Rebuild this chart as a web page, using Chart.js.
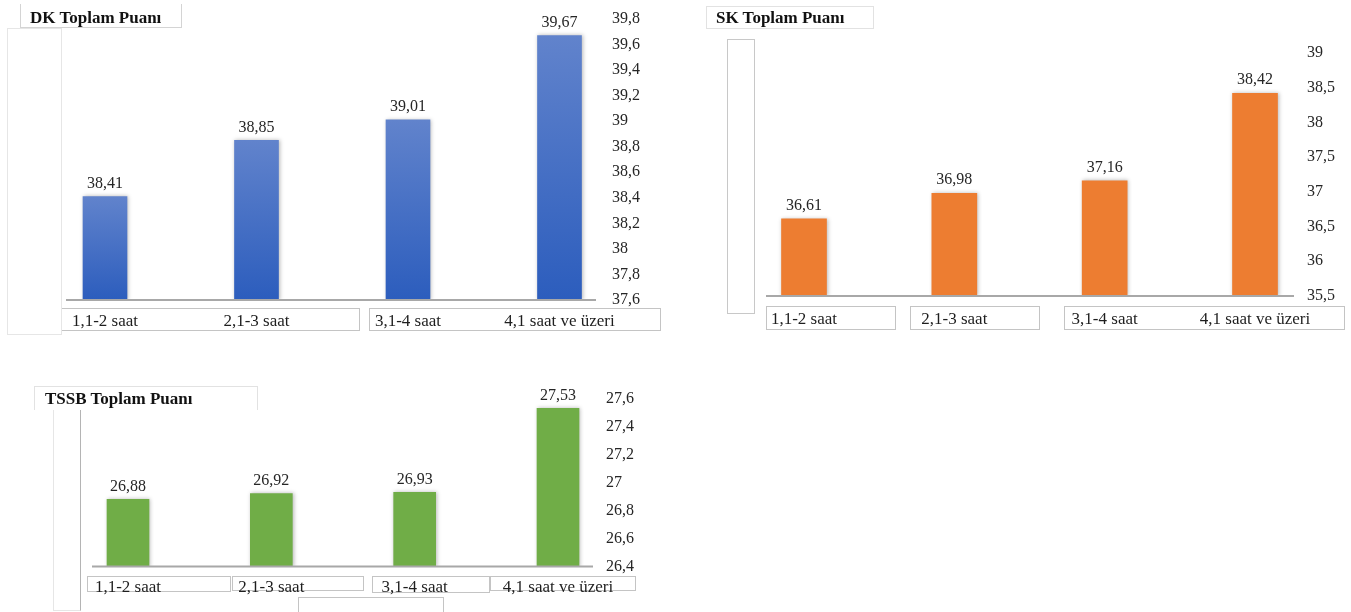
<!DOCTYPE html>
<html>
<head>
<meta charset="utf-8">
<script src="https://cdn.jsdelivr.net/npm/chart.js@4.4.1/dist/chart.umd.min.js"></script>
<style>
  html, body { margin: 0; padding: 0; background: #ffffff; }
  #page { position: relative; width: 1351px; height: 612px; overflow: hidden; }
  #page canvas { position: absolute; left: 0; top: 0; }
  .frame { position: absolute; box-sizing: border-box; border: 1px solid #cfcfcf; }
  .title { position: absolute; font: bold 17px "Liberation Serif", "Times New Roman", serif;
           line-height: 20px; color: #111111; white-space: nowrap; }
</style>
</head>
<body>
<div id="page">
  <canvas id="dkChart" width="1351" height="612"></canvas>
  <canvas id="skChart" width="1351" height="612"></canvas>
  <canvas id="tssbChart" width="1351" height="612"></canvas>
</div>
<script>
// ---- data ----
const categories = ['1,1-2 saat', '2,1-3 saat', '3,1-4 saat', '4,1 saat ve üzeri'];

const dkTitle = 'DK Toplam Puanı';
const dkValues = [38.41, 38.85, 39.01, 39.67];
const dkTicks = [37.6, 37.8, 38, 38.2, 38.4, 38.6, 38.8, 39, 39.2, 39.4, 39.6, 39.8];

const skTitle = 'SK Toplam Puanı';
const skValues = [36.61, 36.98, 37.16, 38.42];
const skTicks = [35.5, 36, 36.5, 37, 37.5, 38, 38.5, 39];

const tssbTitle = 'TSSB Toplam Puanı';
const tssbValues = [26.88, 26.92, 26.93, 27.53];
const tssbTicks = [26.4, 26.6, 26.8, 27, 27.2, 27.4, 27.6];

// ---- layout ----
const PAGE_W = 1351, PAGE_H = 612;
const Y_AXIS_W = 90, X_AXIS_H = 40;
const SERIF = '"Liberation Serif", "Times New Roman", serif';
const TEXT_COLOR = '#262626';

// comma as decimal separator (Turkish)
const fmt = (v, digits) => {
  const s = digits === undefined ? String(Math.round(v * 100) / 100) : v.toFixed(digits);
  return s.replace('.', ',');
};

// light grey frames around titles and category labels
const page = document.getElementById('page');
function frame(x0, y0, x1, y1, style) {
  const d = document.createElement('div');
  d.className = 'frame';
  d.style.left = x0 + 'px';
  d.style.top = y0 + 'px';
  d.style.width = (x1 - x0) + 'px';
  d.style.height = (y1 - y0) + 'px';
  Object.assign(d.style, style || {});
  page.insertBefore(d, page.firstChild);
}
function title(text, x, y) {
  const d = document.createElement('div');
  d.className = 'title';
  d.style.left = x + 'px';
  d.style.top = y + 'px';
  d.textContent = text;
  page.appendChild(d);
}

// DK panel frames
frame(20, 4, 182, 28, { borderTop: 'none', borderColor: '#d4d4d4' });
frame(7, 28, 62, 335, { borderColor: '#e6e6e6' });
frame(61, 308, 360, 331, { borderColor: '#c4c4c4' });
frame(369, 308, 661, 331, { borderColor: '#c4c4c4' });
title(dkTitle, 30, 8);

// SK panel frames
frame(706, 6, 874, 29, { borderColor: '#e2e2e2' });
frame(727, 39, 755, 314, { borderColor: '#c8c8c8' });
frame(766, 306, 896, 330, { borderColor: '#c4c4c4' });
frame(910, 306, 1040, 330, { borderColor: '#c4c4c4' });
frame(1064, 306, 1345, 330, { borderColor: '#c4c4c4' });
title(skTitle, 716, 8);

// TSSB panel frames
frame(34, 386, 258, 410, { borderColor: '#e2e2e2', borderBottom: 'none' });
frame(53, 410, 81, 611, { borderColor: '#e6e6e6', borderRightColor: '#b4b4b4', borderTop: 'none' });
frame(87, 576, 231, 592, { borderColor: '#c4c4c4' });
frame(232, 576, 364, 591, { borderColor: '#c4c4c4' });
frame(372, 576, 490, 593, { borderColor: '#c4c4c4' });
frame(490, 576, 636, 591, { borderColor: '#c4c4c4' });
frame(298, 597, 444, 620, { borderColor: '#c4c4c4' });
title(tssbTitle, 45, 389);

// ---- plugins ----
const barShadow = {
  id: 'barShadow',
  beforeDatasetDraw(chart) {
    const ctx = chart.ctx;
    ctx.save();
    ctx.shadowColor = 'rgba(0,0,0,0.28)';
    ctx.shadowBlur = 4;
    ctx.shadowOffsetX = 1;
    ctx.shadowOffsetY = 0;
  },
  afterDatasetDraw(chart) { chart.ctx.restore(); }
};

const baseLine = {
  id: 'baseLine',
  afterDatasetsDraw(chart, args, opts) {
    const ctx = chart.ctx;
    const y = chart.scales.y.getPixelForValue(chart.scales.y.min);
    ctx.save();
    ctx.strokeStyle = '#a8a8a8';
    ctx.lineWidth = 2;
    ctx.beginPath();
    ctx.moveTo(opts.from, y);
    ctx.lineTo(opts.to, y);
    ctx.stroke();
    ctx.restore();
  }
};

const valueLabels = {
  id: 'valueLabels',
  afterDatasetsDraw(chart, args, opts) {
    const ctx = chart.ctx;
    const meta = chart.getDatasetMeta(0);
    const data = chart.data.datasets[0].data;
    ctx.save();
    ctx.font = '16px ' + SERIF;
    ctx.fillStyle = TEXT_COLOR;
    ctx.textAlign = 'center';
    ctx.textBaseline = 'middle';
    meta.data.forEach((bar, i) => {
      ctx.fillText(fmt(data[i], 2), bar.x, bar.y - opts.gap);
    });
    ctx.restore();
  }
};

// axis boxes keep exactly the size given, with no extra label padding
const fixedBox = (w, h) => (s) => {
  if (w !== null) s.width = w;
  if (h !== null) s.height = h;
  s.paddingTop = s.paddingBottom = s.paddingLeft = s.paddingRight = 0;
};

// ---- chart factory ----
// area.left / area.right are the first and last category centres;
// the value axis sits to the right with its labels pushed out by tickPad.
function makeChart(id, cfg) {
  const ticks = cfg.ticks;
  const step = Math.round((ticks[1] - ticks[0]) * 100) / 100;
  new Chart(document.getElementById(id), {
    type: 'bar',
    data: {
      labels: categories,
      datasets: [{
        data: cfg.values,
        base: ticks[0],
        backgroundColor: cfg.color,
        borderWidth: 0,
        barThickness: cfg.barWidth,
        clip: { left: 40, right: 40, top: 40, bottom: 0 }
      }]
    },
    plugins: [barShadow, baseLine, valueLabels],
    options: {
      responsive: false,
      animation: false,
      events: [],
      layout: {
        padding: {
          left: cfg.area.left,
          top: cfg.area.top,
          right: PAGE_W - cfg.area.right - Y_AXIS_W,
          bottom: PAGE_H - cfg.area.bottom - X_AXIS_H
        }
      },
      plugins: {
        legend: { display: false },
        tooltip: { enabled: false },
        baseLine: { from: cfg.line[0], to: cfg.line[1] },
        valueLabels: { gap: 13 }
      },
      scales: {
        x: {
          offset: false,
          grid: { display: false, drawTicks: false },
          border: { display: false },
          ticks: {
            padding: cfg.labelPad,
            autoSkip: false,
            maxRotation: 0,
            color: '#1e1e1e',
            font: { family: SERIF, size: 17, lineHeight: 1.2 }
          },
          afterFit: fixedBox(null, X_AXIS_H)
        },
        y: {
          position: 'right',
          min: ticks[0],
          max: ticks[ticks.length - 1],
          grid: { display: false, drawTicks: false },
          border: { display: false },
          ticks: {
            stepSize: step,
            padding: cfg.tickPad,
            autoSkip: false,
            color: TEXT_COLOR,
            font: { family: SERIF, size: 16 },
            callback: (v) => fmt(v)
          },
          afterFit: fixedBox(Y_AXIS_W, null)
        }
      }
    }
  });
}

// blue bars shade from lighter top to deeper base
function blueGradient(c) {
  const chart = c.chart;
  const area = chart.chartArea;
  if (!area || c.type !== 'data') return '#4472c4';
  const top = chart.scales.y.getPixelForValue(c.raw);
  const g = chart.ctx.createLinearGradient(0, top, 0, area.bottom);
  g.addColorStop(0, '#6183cc');
  g.addColorStop(1, '#2c5dbd');
  return g;
}

makeChart('dkChart', {
  values: dkValues, ticks: dkTicks, color: blueGradient, barWidth: 44,
  area: { left: 105, right: 559.5, top: 19, bottom: 300 },
  line: [66, 596], tickPad: 52.5, labelPad: 11.8
});

makeChart('skChart', {
  values: skValues, ticks: skTicks, color: '#ed7d31', barWidth: 45,
  area: { left: 804, right: 1255, top: 53, bottom: 296 },
  line: [766, 1294], tickPad: 52, labelPad: 13.8
});

makeChart('tssbChart', {
  values: tssbValues, ticks: tssbTicks, color: '#70ad47', barWidth: 42,
  area: { left: 128, right: 558, top: 398.5, bottom: 566.5 },
  line: [92, 593], tickPad: 48, labelPad: 11.3
});
</script>
</body>
</html>
